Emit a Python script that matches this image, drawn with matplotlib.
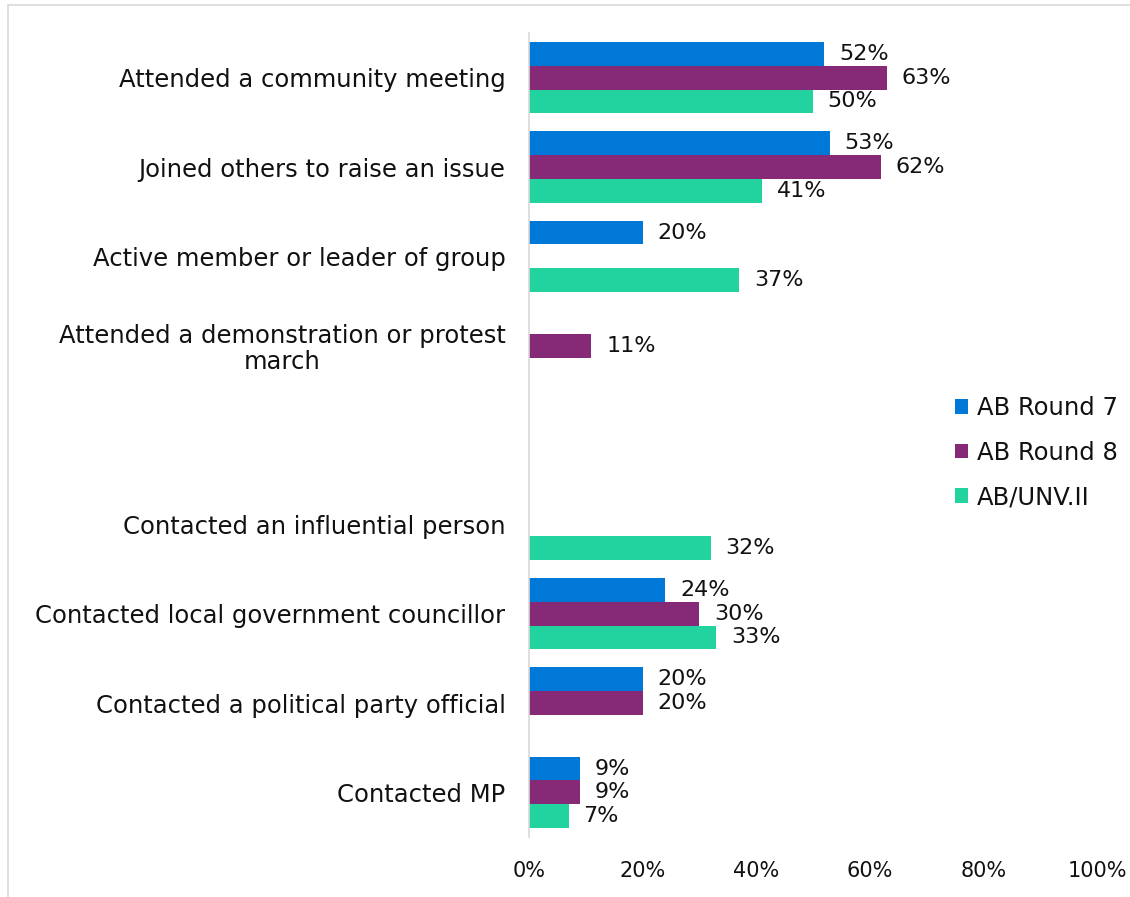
import numpy as np
import matplotlib.pyplot as plt
from matplotlib.patches import Rectangle


# activity categories, top to bottom (the empty one leaves a gap)
categories = [
    "Attended a community meeting",
    "Joined others to raise an issue",
    "Active member or leader of group",
    "Attended a demonstration or protest\nmarch",
    "",
    "Contacted an influential person",
    "Contacted local government councillor",
    "Contacted a political party official",
    "Contacted MP",
]

# percentages per survey, nan where the question was not asked
round7 = [52, 53, 20, np.nan, np.nan, np.nan, 24, 20, 9]
round8 = [63, 62, np.nan, 11, np.nan, np.nan, 30, 20, 9]
unv2 = [50, 41, 37, np.nan, np.nan, 32, 33, np.nan, 7]

series_names = ["AB Round 7", "AB Round 8", "AB/UNV.II"]
colors = ["#0078D7", "#862A77", "#22D3A0"]

x_ticks = [0, 20, 40, 60, 80, 100]

FONT = "DejaVu Sans"
SIZE = 17.5
NUM_SIZE = 16
TICK_SIZE = 15
TXT = "#111111"


def main():
    fig = plt.figure(figsize=(11.3, 8.97), dpi=100)
    axe = fig.add_axes([529 / 1130, 1 - 837 / 897, 568 / 1130, 804 / 897])

    y_pos = np.arange(len(categories))
    height = 0.265

    for i, (name, vals, col) in enumerate(zip(series_names, [round7, round8, unv2], colors)):
        offs = (i - 1) * height
        vals = np.array(vals, dtype=float)
        axe.barh(y_pos + offs, vals, height=height, color=col, label=name)
        for y, v in zip(y_pos, vals):
            if np.isnan(v):
                continue
            axe.text(v + 2.6, y + offs, "{0:.0f}%".format(v), va="center", ha="left",
                     fontsize=NUM_SIZE, family=FONT, color=TXT)

    axe.set_ylim(len(categories) - 0.5, -0.5)
    axe.set_xlim(0, 100)

    axe.set_yticks(y_pos)
    axe.set_yticklabels(categories, fontsize=SIZE, family=FONT, color=TXT,
                        multialignment="center", linespacing=1.1)
    axe.set_xticks(x_ticks)
    axe.set_xticklabels(["{0}%".format(t) for t in x_ticks], fontsize=TICK_SIZE,
                        family=FONT, color=TXT)
    axe.tick_params(axis="both", length=0)
    axe.tick_params(axis="y", pad=17)
    axe.tick_params(axis="x", pad=17)

    for side in ("top", "right", "bottom"):
        axe.spines[side].set_visible(False)
    axe.spines["left"].set_color("#d9d9d9")
    axe.spines["left"].set_linewidth(1.2)

    leg = axe.legend(loc="upper left", bbox_to_anchor=(955 / 1130, 1 - 396 / 897),
                     bbox_transform=fig.transFigure, frameon=False,
                     borderaxespad=0, borderpad=0,
                     prop={"family": FONT, "size": SIZE}, handlelength=0.55,
                     handleheight=0.55, handletextpad=0.35, labelspacing=0.85)
    for txt in leg.get_texts():
        txt.set_color(TXT)

    # thin frame round the chart area
    fig.patches.append(Rectangle((8 / 1130, -0.02), 1.05, 1 - 5 / 897 + 0.02,
                                 transform=fig.transFigure, fill=False,
                                 edgecolor="#d9d9d9", linewidth=1.2))

    fig.savefig("out.png", dpi=100)


if __name__ == "__main__":
    main()
